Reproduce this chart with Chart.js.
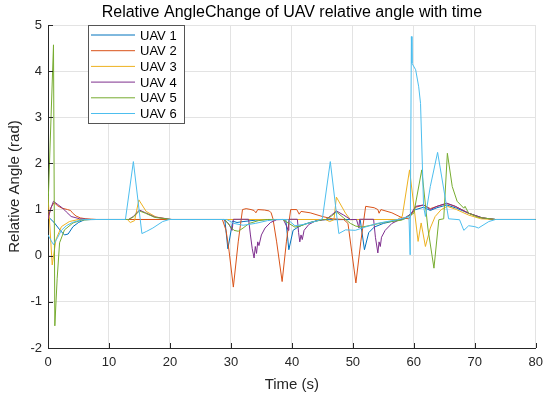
<!DOCTYPE html>
<html lang="en">
<head>
    <meta charset="UTF-8">
    <title>Relative Angle</title>
    <script src="https://cdn.jsdelivr.net/npm/chart.js@4.4.1/dist/chart.umd.min.js"></script>
    <style>
        body {
            margin: 0;
            background-color: #ffffff;
        }
        #wrap {
            width: 550px;
            height: 395px;
        }
    </style>
</head>
<body>
<div id="wrap">
    <canvas id="angleChart" width="550" height="395"></canvas>
</div>

<script>
    // [time (s), relative angle (rad)]
    const uav1 = [[0,0.85],[1,0.72],[2,0.55],[2.7,0.45],[3.3,0.47],[4.1,0.63],[5,0.72],[6,0.78],[8,0.785],
        [29.0,0.785],[29.5,0.15],[30.3,0.75],[31,0.72],[32,0.74],[34,0.77],[36,0.785],[39,0.785],[39.5,0.13],
        [40.2,0.55],[41,0.62],[42,0.68],[43.5,0.74],[45,0.78],[51.2,0.785],[51.9,0.13],[52.6,0.5],[53.5,0.62],
        [55,0.7],[57,0.76],[58.5,0.8],[60.3,1.0],[61.6,1.05],[62.7,0.98],[63.8,1.04],[65.4,1.1],[67,1.03],
        [69,0.92],[71.2,0.82],[73.4,0.785],[80,0.785]];
    const uav2 = [[0,0.8],[0.5,1.05],[1.0,1.15],[1.6,1.08],[2.3,1.03],[3.2,1.0],[3.7,0.98],[4.0,0.93],[4.6,0.86],
        [5.3,0.82],[6.2,0.8],[8,0.785],[28.6,0.785],[29.2,0.55],[29.7,0.1],[30.4,-0.68],[31.2,0.3],[31.9,1.0],
        [32.5,1.02],[33.3,1.0],[33.8,0.98],[34.1,0.93],[34.4,1.0],[35.5,0.99],[36.3,0.97],[36.6,0.93],[36.9,0.8],
        [37.5,0.3],[38.4,-0.56],[39.1,0.3],[39.8,1.0],[40.8,1.0],[41.2,0.9],[41.5,0.96],[43,0.93],[45,0.85],
        [46.6,0.8],[48.5,0.785],[49.2,0.7],[49.8,0.1],[50.5,-0.59],[51.3,0.3],[52.1,1.07],[53.5,1.04],[54.1,1.0],
        [54.3,0.92],[54.6,1.0],[56.4,0.93],[58.1,0.82],[59.2,0.8],[60.3,1.05],[61.6,1.1],[62.7,1.02],[63.8,1.07],
        [65.4,1.13],[66.8,1.07],[69,0.92],[71.2,0.82],[73.4,0.785],[80,0.785]];
    const uav3 = [[0,1.3],[0.69,-0.2],[1.3,0.35],[2.2,0.63],[3.5,0.74],[5,0.785],[13,0.785],[13.5,0.72],
        [14.2,0.76],[14.9,1.21],[16.1,0.96],[17.7,0.84],[20,0.785],[45.5,0.785],[46.2,0.74],[46.9,0.78],
        [47.3,1.27],[48.8,0.92],[49.6,0.78],[50.5,0.785],[57.3,0.785],[58.1,0.85],[59.3,1.86],[60.7,0.31],
        [61.2,0.71],[61.9,0.2],[62.7,0.6],[63.5,0.85],[64.5,1.0],[65.5,1.07],[67,1.0],[69,0.88],[71,0.8],
        [73,0.785],[80,0.785]];
    const uav4 = [[0,0.8],[0.4,1.0],[0.9,1.18],[1.5,1.12],[2.4,1.03],[3,0.95],[3.8,0.85],[5.2,0.8],[7,0.785],
        [13.2,0.785],[14,0.85],[15,0.99],[16,0.93],[17.5,0.84],[20.3,0.785],[28.8,0.785],[29.6,0.7],[30.2,0.55],
        [30.4,0.79],[32.9,0.79],[33.2,0.45],[33.5,0.15],[33.8,-0.05],[34.0,0.2],[34.2,0.05],[34.4,0.3],[34.6,0.22],
        [35.0,0.45],[35.6,0.6],[36.5,0.72],[37.5,0.78],[38.6,0.785],[39.1,0.65],[39.4,0.55],[39.5,0.79],[40.9,0.79],
        [41.1,0.5],[41.3,0.3],[41.5,0.45],[41.7,0.35],[42.0,0.55],[42.8,0.68],[44,0.76],[45.6,0.785],[46.5,0.88],
        [47.3,0.97],[48.5,0.88],[49.6,0.785],[50.6,0.785],[51.0,0.6],[51.1,0.79],[53.4,0.79],[53.7,0.4],[54.1,0.06],
        [54.3,0.3],[54.5,0.2],[54.7,0.4],[55.3,0.55],[56.4,0.7],[57.5,0.77],[58.5,0.82],[59.5,0.9],[60.3,1.07],
        [61.6,1.1],[62.7,1.0],[63.8,1.07],[65.4,1.14],[66.8,1.07],[69,0.92],[71.2,0.82],[73.4,0.785],[80,0.785]];
    const uav5 = [[0,1.05],[0.9,4.57],[1.12,-1.52],[1.5,-0.5],[1.9,0.28],[2.7,0.56],[4.1,0.71],[5.5,0.77],[7,0.785],
        [13.2,0.785],[14,0.84],[15,0.97],[16,0.92],[17.5,0.83],[20.3,0.785],[29,0.785],[29.8,0.65],[30.5,0.55],
        [31.2,0.53],[32,0.6],[33,0.7],[34.5,0.76],[36,0.785],[38.5,0.785],[39.5,0.7],[40.5,0.62],[41.5,0.65],
        [43,0.72],[45,0.78],[45.6,0.785],[46.5,0.86],[47.3,0.95],[48.5,0.82],[49.6,0.7],[50.5,0.64],[51.5,0.62],
        [53,0.66],[55,0.72],[58,0.77],[60,0.92],[61.3,1.86],[62.3,0.6],[63.3,-0.27],[64.1,0.78],[64.9,0.8],
        [65.5,2.22],[66.3,1.5],[67.1,1.18],[68.2,1.03],[68.4,1.07],[69,0.92],[70.6,0.83],[73.4,0.785],[80,0.785]];
    const uav6 = [[0,0.45],[0.5,0.33],[0.9,0.24],[1.6,0.4],[2.2,0.55],[3,0.65],[4,0.72],[5.5,0.78],[7,0.785],
        [12.7,0.785],[14.0,2.04],[15.4,0.48],[16.2,0.53],[17.2,0.6],[18.8,0.74],[19.9,0.785],[29.3,0.785],
        [30.5,0.7],[32,0.66],[34,0.7],[36,0.76],[37.5,0.785],[39.3,0.785],[40.5,0.65],[42,0.68],[44,0.75],
        [45,0.8],[46.3,2.04],[47.7,0.48],[48.8,0.56],[50.4,0.55],[52,0.62],[54,0.7],[56,0.75],[58,0.8],
        [59.2,0.85],[59.4,0.02],[59.6,4.75],[59.7,4.17],[60.3,4.03],[60.8,3.66],[61.1,3.3],[61.6,1.07],
        [61.9,0.85],[62.7,1.5],[63.9,2.24],[65.2,1.21],[65.7,0.8],[67.5,0.78],[68.2,0.55],[69,0.65],[70,0.63],
        [70.6,0.6],[72.3,0.74],[73.4,0.785],[80,0.785]];

    const seriesNames = ['UAV 1', 'UAV 2', 'UAV 3', 'UAV 4', 'UAV 5', 'UAV 6'];
    const seriesColors = ['#0072BD', '#D95319', '#EDB120', '#7E2F8E', '#77AC30', '#4DBEEE'];
    const xTicks = [0, 10, 20, 30, 40, 50, 60, 70, 80];
    const yTicks = [-2, -1, 0, 1, 2, 3, 4, 5];
    const titleText = 'Relative AngleChange of UAV relative angle with time';

    const allSeries = [uav1, uav2, uav3, uav4, uav5, uav6];
    const axisColor = '#262626';
    const fontFamily = '"Liberation Sans", Arial, sans-serif';

    // title centred over the axes, like MATLAB does
    const titlePlugin = {
        id: 'axesTitle',
        afterDraw(chart) {
            const { ctx, chartArea } = chart;
            ctx.save();
            ctx.font = '16px ' + fontFamily;
            ctx.fillStyle = '#000000';
            ctx.textAlign = 'center';
            ctx.textBaseline = 'middle';
            ctx.fillText(titleText, (chartArea.left + chartArea.right) / 2, 13);
            ctx.restore();
        }
    };

    // tick marks pointing into the plot
    const innerTicks = {
        id: 'innerTicks',
        afterDraw(chart) {
            const { ctx, chartArea, scales } = chart;
            ctx.save();
            ctx.strokeStyle = axisColor;
            ctx.lineWidth = 1;
            ctx.beginPath();
            xTicks.forEach(t => {
                const px = Math.round(scales.x.getPixelForValue(t)) + 0.5;
                ctx.moveTo(px, chartArea.bottom);
                ctx.lineTo(px, chartArea.bottom - 5);
            });
            yTicks.forEach(t => {
                const py = Math.round(scales.y.getPixelForValue(t)) + 0.5;
                ctx.moveTo(chartArea.left, py);
                ctx.lineTo(chartArea.left + 5, py);
            });
            ctx.stroke();
            ctx.restore();
        }
    };

    // legend box in the top-left corner of the axes
    const boxLegend = {
        id: 'boxLegend',
        afterDraw(chart) {
            const { ctx, chartArea } = chart;
            const left = chartArea.left + 40;
            const top = chartArea.top;
            ctx.save();
            ctx.fillStyle = '#ffffff';
            ctx.fillRect(left, top, 96, 98);
            ctx.strokeStyle = '#555555';
            ctx.lineWidth = 1;
            ctx.strokeRect(left + 0.5, top + 0.5, 96, 98);
            ctx.font = '13px ' + fontFamily;
            ctx.textBaseline = 'middle';
            ctx.textAlign = 'left';
            seriesNames.forEach((name, i) => {
                const y = top + 10 + i * 15.7;
                ctx.strokeStyle = seriesColors[i];
                ctx.beginPath();
                ctx.moveTo(left + 3, y);
                ctx.lineTo(left + 47, y);
                ctx.stroke();
                ctx.fillStyle = '#000000';
                ctx.fillText(name, left + 52, y + 1);
            });
            ctx.restore();
        }
    };

    const ctx = document.getElementById('angleChart').getContext('2d');
    const angleChart = new Chart(ctx, {
        type: 'line',
        data: {
            datasets: allSeries.map((s, i) => ({
                label: seriesNames[i],
                data: s.map(p => ({ x: p[0], y: p[1] })),
                borderColor: seriesColors[i],
                borderWidth: 1,
                pointRadius: 0,
                tension: 0,
                fill: false,
                order: 6 - i
            }))
        },
        options: {
            responsive: false,
            animation: false,
            layout: {
                padding: { top: 25, right: 13, left: 0, bottom: 0 }
            },
            plugins: {
                legend: { display: false },
                title: { display: false },
                tooltip: { enabled: false }
            },
            scales: {
                x: {
                    type: 'linear',
                    min: 0,
                    max: 80,
                    afterFit(scale) { scale.height = 47; },
                    afterBuildTicks(scale) { scale.ticks = xTicks.map(v => ({ value: v })); },
                    ticks: {
                        color: axisColor,
                        font: { family: fontFamily, size: 13 },
                        padding: 7,
                        maxRotation: 0
                    },
                    grid: { color: '#e3e3e3', drawTicks: false },
                    border: { color: axisColor },
                    title: {
                        display: true,
                        text: 'Time (s)',
                        color: axisColor,
                        font: { family: fontFamily, size: 15 },
                        padding: { top: 0, bottom: 1 }
                    }
                },
                y: {
                    type: 'linear',
                    min: -2,
                    max: 5,
                    afterFit(scale) { scale.width = 48; },
                    afterBuildTicks(scale) { scale.ticks = yTicks.map(v => ({ value: v })); },
                    ticks: {
                        color: axisColor,
                        font: { family: fontFamily, size: 13 },
                        padding: 6
                    },
                    grid: { color: '#e3e3e3', drawTicks: false },
                    border: { color: axisColor },
                    title: {
                        display: true,
                        text: 'Relative Angle (rad)',
                        color: axisColor,
                        font: { family: fontFamily, size: 15 },
                        padding: { top: 6, bottom: 0 }
                    }
                }
            }
        },
        plugins: [titlePlugin, innerTicks, boxLegend]
    });
</script>
</body>
</html>
